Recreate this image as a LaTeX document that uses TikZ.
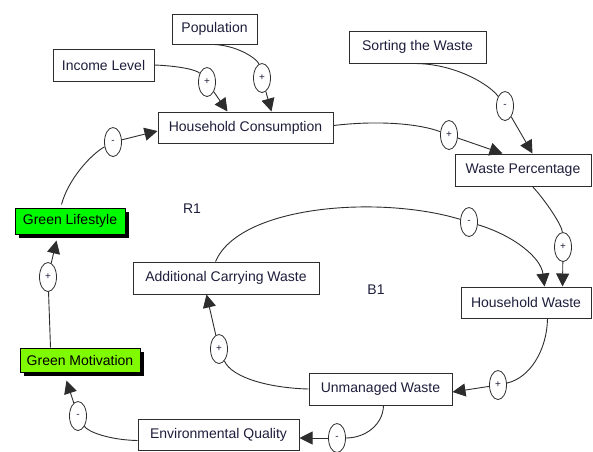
\documentclass[tikz,border=0pt]{standalone}
\usepackage{fontspec}
\setmainfont{Liberation Sans}
\usetikzlibrary{arrows.meta,shapes.geometric,shadows}
\definecolor{linec}{RGB}{45,45,45}
\definecolor{txtc}{RGB}{30,30,60}
\definecolor{greenA}{RGB}{0,250,0}
\definecolor{greenB}{RGB}{128,250,0}
\begin{document}
\begin{tikzpicture}[x=1pt,y=-1pt,
 box/.style={draw=linec, line width=1pt, rectangle, inner sep=0pt, fill=white, text=txtc, font=\fontsize{14}{16}\selectfont},
 gbox/.style={box, text=black, draw=black, drop shadow={shadow xshift=4pt, shadow yshift=-4pt, fill=black, opacity=1}},
 sign/.style={draw=linec, ellipse, line width=0.8pt, minimum width=17pt, minimum height=29pt, inner sep=0pt, fill=white, text=txtc, font=\fontsize{10}{10}\selectfont},
 link/.style={draw=linec, line width=0.9pt},
 arr/.style={link, -{Triangle[length=13pt,width=13pt]}},
 lbl/.style={text=txtc, font=\fontsize{14}{16}\selectfont}
]
\useasboundingbox (0,0) rectangle (593,451);
% boxes
\node[box, minimum width=85pt, minimum height=30pt] (pop) at (214.5,29) {Population};
\node[box, minimum width=101pt, minimum height=32pt] (inc) at (103.5,65) {Income Level};
\node[box, minimum width=175pt, minimum height=31pt] (hc) at (245.5,127.5) {Household Consumption};
\node[box, minimum width=137pt, minimum height=32pt] (sort) at (417.5,47) {Sorting the Waste};
\node[box, minimum width=136pt, minimum height=32pt] (wp) at (523,170) {Waste Percentage};
\node[box, minimum width=130pt, minimum height=31pt] (hw) at (526,302.5) {Household Waste};
\node[box, minimum width=186pt, minimum height=32pt] (acw) at (226,278) {Additional Carrying Waste};
\node[box, minimum width=143pt, minimum height=32pt] (um) at (380.5,389) {Unmanaged Waste};
\node[box, minimum width=161pt, minimum height=31pt] (eq) at (218.5,434.5) {Environmental Quality};
\node[gbox, fill=greenA, minimum width=110pt, minimum height=26pt] (gl) at (70,221) {Green Lifestyle};
\node[gbox, fill=greenB, minimum width=120pt, minimum height=24pt] (gm) at (80,360) {Green Motivation};
% loop labels
\node[lbl] (r1) at (192,209) {R1};
\node[lbl] (b1) at (376,290) {B1};
% polarity signs
\node[sign] (e1) at (207,82) {+};
\node[sign] (e2) at (262,78) {+};
\node[sign] (e3) at (505,106) {-};
\node[sign] (e4) at (449,135) {+};
\node[sign] (e5) at (563,247) {+};
\node[sign] (e6) at (469,222) {-};
\node[sign] (e7) at (498,385) {+};
\node[sign] (e8) at (337,438) {-};
\node[sign] (e9) at (219,349) {+};
\node[sign] (e10) at (78,416) {-};
\node[sign] (e11) at (48,277) {+};
\node[sign] (e12) at (113,142) {-};
% links
\draw[link] (inc.east) .. controls (180,66) and (197,70) .. (e1);
\draw[arr] (e1) -- ([xshift=70pt]hc.north west);
\draw[link] (pop.south) .. controls (240,46) and (258,60) .. (e2);
\draw[arr] (e2) -- ([xshift=114pt]hc.north west);
\draw[link] ([xshift=-5pt]sort.south) .. controls (455,63) and (490,85) .. (e3);
\draw[arr] (e3) -- ([xshift=78pt]wp.north west);
\draw[link] ([yshift=2pt]hc.east) .. controls (380,120) and (420,124) .. (e4);
\draw[arr] (e4) -- ([xshift=48pt]wp.north west);
\draw[link] ([xshift=78pt]wp.south west) .. controls (545,200) and (562,225) .. (e5);
\draw[arr] (e5) -- ([xshift=102pt]hw.north west);
\draw[link] ([xshift=83pt]acw.north west) .. controls (240,205) and (380,195) .. (e6);
\draw[arr] (e6) .. controls (515,236) and (541,258) .. ([xshift=84pt]hw.north west);
\draw[link] ([xshift=87pt]hw.south west) .. controls (547,350) and (530,378) .. (e7);
\draw[arr] (e7) -- ([yshift=-3pt]um.east);
\draw[link] ([xshift=75pt]um.south west) .. controls (383,425) and (365,438) .. (e8);
\draw[arr] (e8) -- ([yshift=-3.5pt]eq.east);
\draw[link] (um.west) .. controls (270,388) and (232,378) .. (e9);
\draw[arr] (e9) -- ([xshift=74pt]acw.south west);
\draw[link] ([yshift=-6pt]eq.west) .. controls (110,440) and (88,432) .. (e10);
\draw[arr] (e10) -- ([xshift=47pt,yshift=-8pt]gm.south west);
\draw[link] ([xshift=31pt]gm.north west) -- (e11);
\draw[arr] (e11) -- ([xshift=42pt,yshift=-6pt]gl.south west);
\draw[link] ([xshift=47pt,yshift=3pt]gl.north west) .. controls (68,180) and (90,155) .. (e12);
\draw[arr] (e12) -- ([yshift=-3.5pt]hc.west);
\end{tikzpicture}
\end{document}
